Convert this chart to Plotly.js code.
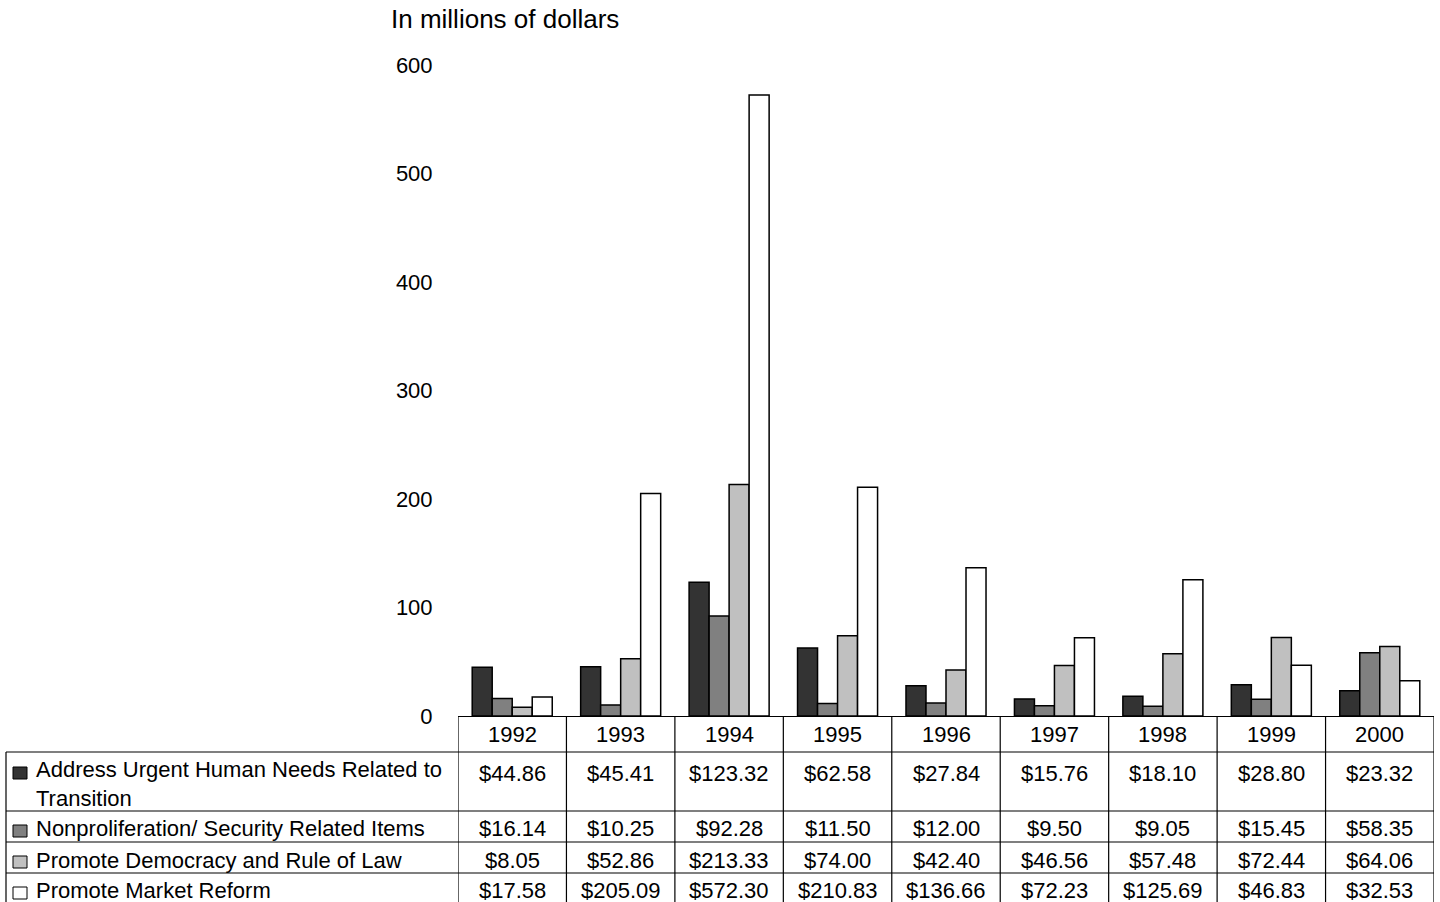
<!DOCTYPE html>
<html>
<head>
<meta charset="utf-8">
<script src="https://cdn.plot.ly/plotly-3.0.1.min.js"></script>
<style>
  html, body { margin: 0; padding: 0; background: #ffffff; }
  #chart { width: 1440px; height: 902px; }
</style>
</head>
<body>
<div id="chart"></div>
<script>
// ---- Data ----
const years = ['1992', '1993', '1994', '1995', '1996', '1997', '1998', '1999', '2000'];
const seriesNames = [
  'Address Urgent Human Needs Related to Transition',
  'Nonproliferation/ Security Related Items',
  'Promote Democracy and Rule of Law',
  'Promote Market Reform'
];
const tableLabels = [
  'Address Urgent Human Needs Related to<br>Transition',
  'Nonproliferation/ Security Related Items',
  'Promote Democracy and Rule of Law',
  'Promote Market Reform'
];
const humanNeeds   = [44.86, 45.41, 123.32, 62.58, 27.84, 15.76, 18.10, 28.80, 23.32];
const nonprolif    = [16.14, 10.25, 92.28, 11.50, 12.00, 9.50, 9.05, 15.45, 58.35];
const democracy    = [8.05, 52.86, 213.33, 74.00, 42.40, 46.56, 57.48, 72.44, 64.06];
const marketReform = [17.58, 205.09, 572.30, 210.83, 136.66, 72.23, 125.69, 46.83, 32.53];
const yTickValues  = [0, 100, 200, 300, 400, 500, 600];
const yAxisTitle   = 'In millions of dollars';

// ---- Styling / layout constants ----
const seriesColors = ['#333333', '#808080', '#c0c0c0', '#ffffff'];
const FONT = 'Liberation Sans, Arial, Helvetica, sans-serif';
const W = 1440, H = 902;
const M = { l: 458, r: 6, t: 65, b: 186 };
const plotW = W - M.l - M.r;
const plotH = H - M.t - M.b;
const px2x = px => (px - M.l) / plotW;          // pixel x -> paper x
const py2y = py => (H - M.b - py) / plotH;      // pixel y -> paper y

const allSeries = [humanNeeds, nonprolif, democracy, marketReform];

const traces = allSeries.map((vals, i) => ({
  type: 'bar',
  name: seriesNames[i],
  x: years,
  y: vals,
  marker: { color: seriesColors[i], line: { color: '#000000', width: 1.5 } },
  hoverinfo: 'x+y+name',
  showlegend: false
}));

// Table geometry (pixels)
const tableLeftPx = 6;
const axisPx = H - M.b;                 // 716
const rowLinesPx = [752, 811, 842, 873, 905];
const headerCenterPx = 735;
const rowCentersPx = [784, 828, 860, 890];
const rowValuePx = [773, 828, 860, 890];
const rowSymbolPx = [773, 831, 862, 893];

const shapes = [];
const lineStyle = { color: '#000000', width: 1.2 };
// vertical lines at category boundaries
for (let k = 0; k <= years.length; k++) {
  shapes.push({ type: 'line', xref: 'x', yref: 'paper',
    x0: k - 0.5, x1: k - 0.5, y0: py2y(axisPx), y1: py2y(rowLinesPx[rowLinesPx.length - 1]),
    line: lineStyle });
}
// left border of label column
shapes.push({ type: 'line', xref: 'paper', yref: 'paper',
  x0: px2x(tableLeftPx), x1: px2x(tableLeftPx), y0: py2y(rowLinesPx[0]), y1: py2y(rowLinesPx[rowLinesPx.length - 1]),
  line: lineStyle });
// horizontal row lines
rowLinesPx.forEach(py => {
  shapes.push({ type: 'line', xref: 'paper', yref: 'paper',
    x0: px2x(tableLeftPx), x1: 1, y0: py2y(py), y1: py2y(py), line: lineStyle });
});
// legend squares
rowSymbolPx.forEach((py, i) => {
  shapes.push({ type: 'rect', xref: 'paper', yref: 'paper',
    x0: px2x(13), x1: px2x(27), y0: py2y(py + 6), y1: py2y(py - 6),
    fillcolor: seriesColors[i], line: { color: '#000000', width: 1 } });
});

const annotations = [];
const tFont = { family: FONT, size: 22, color: '#000000' };
// header years (x given as category index on the category axis)
years.forEach((yr, j) => {
  annotations.push({ xref: 'x', yref: 'paper', x: j, y: py2y(headerCenterPx),
    text: yr, showarrow: false, xanchor: 'center', yanchor: 'middle', font: tFont });
});
// row labels and values
allSeries.forEach((vals, i) => {
  annotations.push({ xref: 'paper', yref: 'paper', x: px2x(34), y: py2y(rowCentersPx[i]),
    text: tableLabels[i], showarrow: false, xanchor: 'left', yanchor: 'middle', align: 'left',
    font: tFont });
  vals.forEach((v, j) => {
    annotations.push({ xref: 'x', yref: 'paper', x: j, y: py2y(rowValuePx[i]),
      text: '$' + v.toFixed(2), showarrow: false, xanchor: 'center', yanchor: 'middle', font: tFont });
  });
});
// axis caption
annotations.push({ xref: 'paper', yref: 'paper', x: px2x(389), y: py2y(19),
  text: yAxisTitle, showarrow: false, xanchor: 'left', yanchor: 'middle',
  font: { family: FONT, size: 26, color: '#000000' } });

const layout = {
  width: W, height: H,
  margin: M,
  paper_bgcolor: '#ffffff',
  plot_bgcolor: '#ffffff',
  font: { family: FONT, size: 22, color: '#000000' },
  barmode: 'group',
  bargap: 0.262,
  bargroupgap: 0,
  showlegend: false,
  xaxis: {
    type: 'category',
    range: [-0.5, years.length - 0.5],
    showticklabels: false,
    ticks: '',
    showgrid: false,
    zeroline: false,
    showline: true,
    linecolor: '#000000',
    linewidth: 1.2
  },
  yaxis: {
    range: [0, 600],
    tickvals: yTickValues,
    ticks: 'outside',
    ticklen: 20,
    tickcolor: 'rgba(0,0,0,0)',
    showgrid: false,
    zeroline: false,
    showline: false,
    tickfont: { family: FONT, size: 22, color: '#000000' }
  },
  shapes: shapes,
  annotations: annotations
};

Plotly.newPlot('chart', traces, layout, { displayModeBar: false });
</script>
</body>
</html>
